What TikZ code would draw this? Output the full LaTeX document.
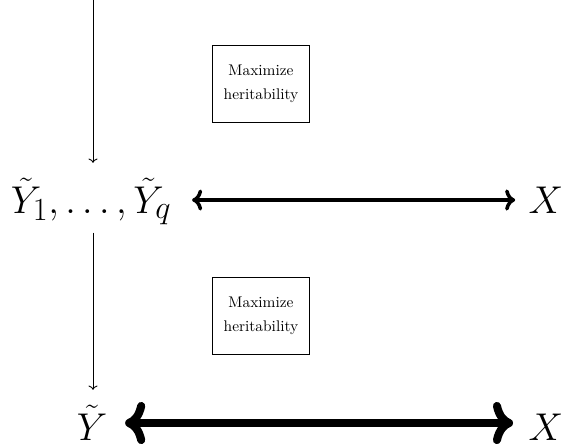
\documentclass[tikz,border=0pt]{standalone}
\usetikzlibrary{arrows.meta}
\newcommand{\mbig}[1]{\scalebox{1.06}{$#1$}}
\begin{document}
\begin{tikzpicture}[x=0.681pt,y=-0.681pt,
  mathlbl/.style={font=\Huge, inner sep=0pt, anchor=base},
  textbox/.style={draw, line width=0.6pt, align=center, inner xsep=7.5pt, inner ysep=13.5pt, font=\fontsize{10.5}{16}\selectfont},
  thinarrow/.style={->, line width=0.6pt},
  thickA/.style={<->, line width=2.4pt},
  thickB/.style={<->, line width=5.5pt}]
\useasboundingbox (0,0) rectangle (564,443);
\node[mathlbl] (Yq) at (91,213) {\mbig{\tilde{Y}_1,\ldots,\tilde{Y}_q}};
\node[mathlbl] (X1) at (546,213) {\mbig{X}};
\node[mathlbl] (Y) at (92,440) {\mbig{\tilde{Y}}};
\node[mathlbl] (X2) at (546,440) {\mbig{X}};
\node[textbox] (b1) at (261,84) {Maximize\\heritability};
\node[textbox] (b2) at (261,316) {Maximize\\heritability};
\coordinate (top) at (93,0);
\draw[thinarrow, shorten >=10pt] (top) -- (top |- Yq.north);
\draw[thinarrow, shorten <=5pt, shorten >=10pt] (top |- Yq.south) -- (top |- Y.north);
\draw[thickA, shorten <=14pt, shorten >=9pt] ([yshift=13*0.681pt]Yq.base east) -- ([yshift=13*0.681pt]X1.base west);
\draw[thickB, shorten <=12pt, shorten >=10.5pt] ([yshift=17*0.681pt]Y.base east) -- ([yshift=17*0.681pt]X2.base west);
\end{tikzpicture}
\end{document}
